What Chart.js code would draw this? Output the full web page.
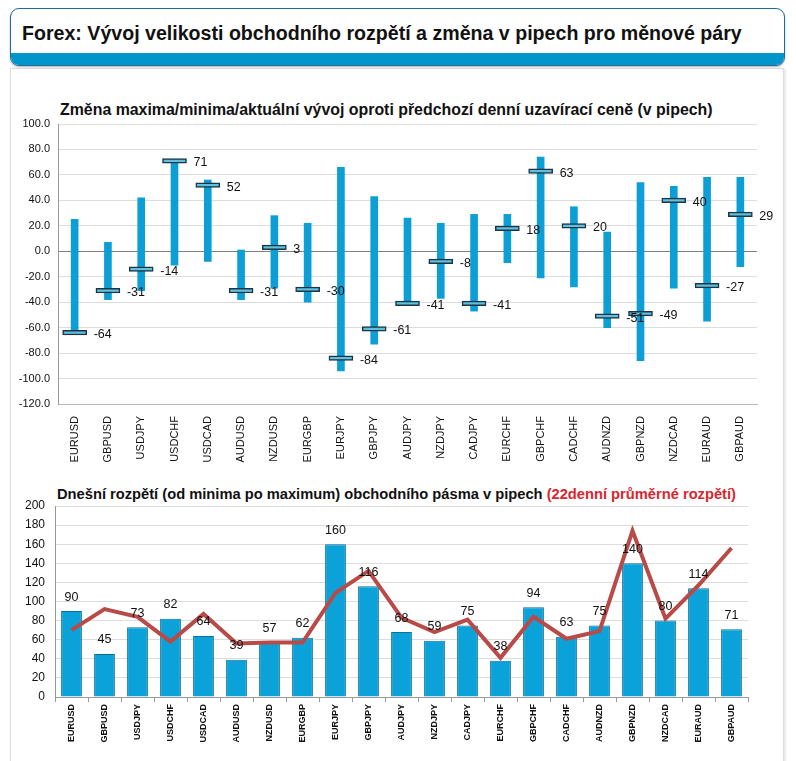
<!DOCTYPE html>
<html>
<head>
<meta charset="utf-8">
<script src="https://cdn.jsdelivr.net/npm/chart.js@4.4.1/dist/chart.umd.min.js"></script>
<style>
  body { margin: 0; background: #fff; font-family: "Liberation Sans", Arial, sans-serif; }
  #wrap { position: relative; width: 796px; height: 761px; overflow: hidden; }
  #head { position: absolute; left: 10px; top: 8px; width: 773px; height: 56px; border: 1px solid #1b6d9c;
          border-radius: 9px; overflow: hidden; background: #fff; box-shadow: 0 1px 2px rgba(0,0,0,0.3); }
  #head .band { position: absolute; left: 0; right: 0; bottom: 0; height: 12px; background: #0096cc; }
  #head .txt { position: absolute; left: 11px; top: 13px; font-weight: bold; font-size: 19.6px; color: #111; }
  #panel { position: absolute; left: 10px; top: 68px; width: 772px; height: 700px; border: 1px solid #ddd;
           box-shadow: 1px 1px 3px rgba(0,0,0,0.15); }
  .ctitle { position: absolute; font-weight: bold; color: #111; white-space: nowrap; }
  canvas { position: absolute; left: 0; }
</style>
</head>
<body>
<div id="wrap">
  <div id="head"><div class="txt">Forex: Vývoj velikosti obchodního rozpětí a změna v pipech pro měnové páry</div><div class="band"></div></div>
  <div id="panel"></div>
  <div class="ctitle" style="left:60px;top:101px;font-size:15.9px;">Změna maxima/minima/aktuální vývoj oproti předchozí denní uzavírací ceně (v pipech)</div>
  <div class="ctitle" style="left:57px;top:486px;font-size:14.7px;">Dnešní rozpětí (od minima po maximum) obchodního pásma v pipech <span style="color:#d9262e">(22denní průměrné rozpětí)</span></div>
  <div style="position:absolute;left:0;top:100px;width:796px;height:380px;"><canvas id="c1"></canvas></div>
  <div style="position:absolute;left:0;top:480px;width:796px;height:281px;"><canvas id="c2"></canvas></div>
</div>
<script>
const pairs = ["EURUSD","GBPUSD","USDJPY","USDCHF","USDCAD","AUDUSD","NZDUSD","EURGBP","EURJPY","GBPJPY","AUDJPY",
  "NZDJPY","CADJPY","EURCHF","GBPCHF","CADCHF","AUDNZD","GBPNZD","NZDCAD","EURAUD","GBPAUD"];
const rangeHigh = [25, 7, 42, 72, 56, 1, 28, 22, 66, 43, 26, 22, 29, 29, 74, 35, 15, 54, 51, 58, 58];
const rangeLow = [-65, -38, -31, -11, -8, -38, -29, -40, -94, -73, -41, -37, -47, -9, -21, -28, -60, -86, -29, -55, -12];
const current = [-64, -31, -14, 71, 52, -31, 3, -30, -84, -61, -41, -8, -41, 18, 63, 20, -51, -49, 40, -27, 29];
const spreadToday = [90, 45, 73, 82, 64, 39, 57, 62, 160, 116, 68, 59, 75, 38, 94, 63, 75, 140, 80, 114, 71];
const spreadAvg22 = [70, 92, 84, 58, 87, 56, 57, 57, 109, 132, 83, 68, 81, 41, 84, 61, 69, 174, 82, 117, 156];

const tickFont = { family: "Liberation Sans", size: 11 };

// draws the value labels next to markers / above bars
const valueLabels = {
  id: 'valueLabels',
  afterDatasetsDraw(chart, args, opts) {
    const ctx = chart.ctx;
    const meta = chart.getDatasetMeta(opts.dataset);
    const vals = chart.data.datasets[opts.dataset].labelValues;
    ctx.save();
    ctx.font = "12.5px 'Liberation Sans'";
    ctx.fillStyle = '#111';
    meta.data.forEach((el, i) => {
      if (opts.mode === 'side') {
        const y = chart.scales.y.getPixelForValue(vals[i]);
        ctx.textAlign = 'left';
        ctx.textBaseline = 'middle';
        ctx.fillText(vals[i], el.x + 19, y + 2);
      } else {
        ctx.textAlign = 'center';
        ctx.textBaseline = 'middle';
        ctx.fillText(vals[i], el.x, el.y - 14);
      }
    });
    ctx.restore();
  }
};

new Chart(document.getElementById('c1'), {
  type: 'bar',
  data: {
    labels: pairs,
    datasets: [
      {
        data: current.map(v => [v - 1.8, v + 1.8]),
        labelValues: current,
        grouped: false,
        order: 0,
        barThickness: 24,
        backgroundColor: '#5fc0e0',
        borderColor: '#1c3542',
        borderWidth: 1.5,
        borderSkipped: false
      },
      {
        data: rangeLow.map((v, i) => [v, rangeHigh[i]]),
        grouped: false,
        order: 1,
        barThickness: 7,
        backgroundColor: '#0c9fd6'
      }
    ]
  },
  options: {
    responsive: true,
    maintainAspectRatio: false,
    animation: false,
    layout: { padding: { left: 0, right: 39, top: 24, bottom: 0 } },
    plugins: { legend: { display: false }, tooltip: { enabled: false }, valueLabels: { dataset: 0, mode: 'side' } },
    scales: {
      x: {
        afterFit(s) { s.height = 76; },
        grid: { display: false },
        border: { display: true, color: '#bbb' },
        ticks: { minRotation: 90, maxRotation: 90, color: '#111', font: tickFont, padding: 4 }
      },
      y: {
        min: -120, max: 100,
        afterFit(s) { s.width = 58; },
        grid: {
          color: ctx => ctx.tick.value === 0 ? '#808080' : '#dcdcdc',
          drawTicks: false
        },
        border: { display: true, color: '#999' },
        ticks: { stepSize: 20, color: '#111', font: tickFont, padding: 8, callback: v => v.toFixed(1) }
      }
    }
  },
  plugins: [valueLabels]
});

new Chart(document.getElementById('c2'), {
  type: 'bar',
  data: {
    labels: pairs,
    datasets: [
      {
        type: 'line',
        data: spreadAvg22,
        order: 0,
        borderColor: '#b84b47',
        borderWidth: 4,
        pointRadius: 0,
        tension: 0
      },
      {
        data: spreadToday,
        labelValues: spreadToday,
        order: 1,
        barPercentage: 0.63,
        categoryPercentage: 1,
        backgroundColor: '#0ba2d9',
        borderColor: '#0a6f98',
        borderWidth: 1,
        borderSkipped: 'bottom'
      }
    ]
  },
  options: {
    responsive: true,
    maintainAspectRatio: false,
    animation: false,
    layout: { padding: { left: 0, right: 48, top: 26, bottom: 0 } },
    plugins: { legend: { display: false }, tooltip: { enabled: false }, valueLabels: { dataset: 1, mode: 'top' } },
    scales: {
      x: {
        afterFit(s) { s.height = 64; },
        grid: { drawOnChartArea: false, drawTicks: true, tickLength: 5, color: '#999', offset: true },
        border: { display: true, color: '#999' },
        ticks: { minRotation: 90, maxRotation: 90, color: '#111', font: { family: "Liberation Sans", size: 9, weight: 'bold' }, padding: 2 }
      },
      y: {
        min: 0, max: 200,
        afterFit(s) { s.width = 55; },
        grid: { color: '#dcdcdc', drawTicks: false },
        border: { display: true, color: '#999' },
        ticks: { stepSize: 20, color: '#111', font: { family: "Liberation Sans", size: 12 }, padding: 10 }
      }
    }
  },
  plugins: [valueLabels]
});
</script>
</body>
</html>
